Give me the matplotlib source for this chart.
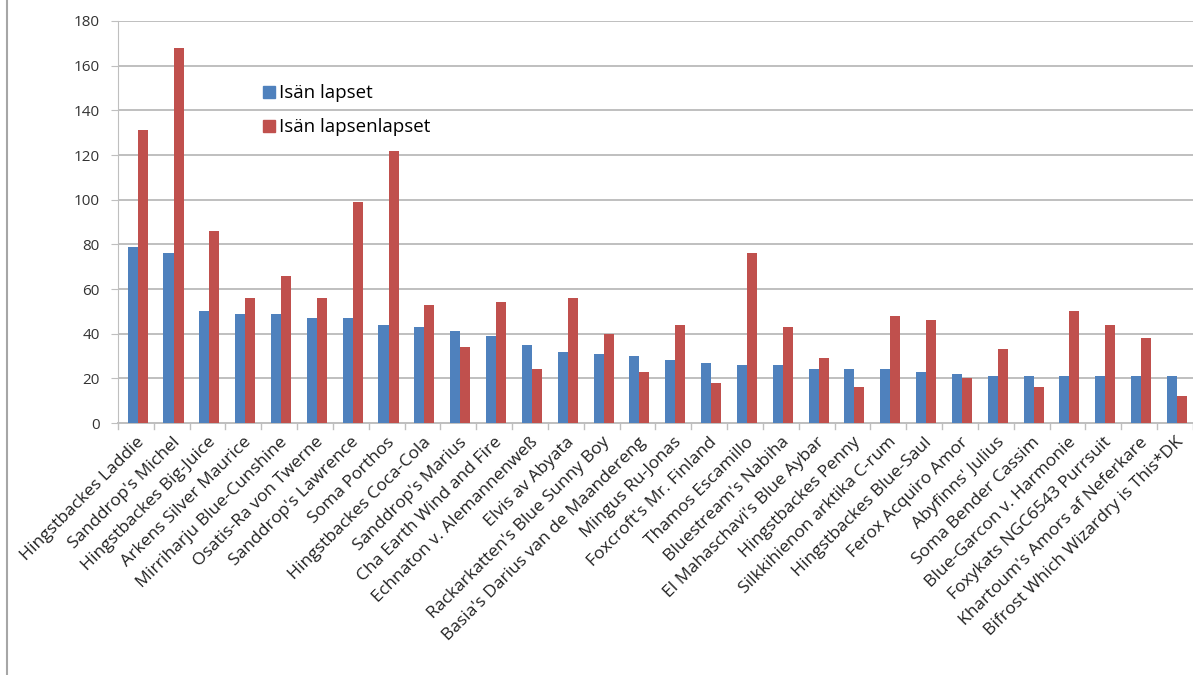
import matplotlib
matplotlib.use("Agg")
import matplotlib.pyplot as plt
import numpy as np
from matplotlib.lines import Line2D

plt.rcParams['font.family'] = ['Open Sans', 'DejaVu Sans']

cats = [
    "Hingstbackes Laddie", "Sanddrop's Michel", "Hingstbackes Big-Juice",
    "Arkens Silver Maurice", "Mirriharju Blue-Cunshine", "Osatis-Ra von Twerne",
    "Sanddrop's Lawrence", "Soma Porthos", "Hingstbackes Coca-Cola",
    "Sanddrop's Marius", "Cha Earth Wind and Fire", "Echnaton v. Alemannenweß",
    "Elvis av Abyata", "Rackarkatten's Blue Sunny Boy",
    "Basia's Darius van de Maandereng", "Mingus Ru-Jonas",
    "Foxcroft's Mr. Finland", "Thamos Escamillo", "Bluestream's Nabiha",
    "El Mahaschavi's Blue Aybar", "Hingstbackes Penny",
    "Silkkihienon arktika C-rum", "Hingstbackes Blue-Saul",
    "Ferox Acquiro Amor", "Abyfinns' Julius", "Soma Bender Cassim",
    "Blue-Garcon v. Harmonie", "Foxykats NGC6543 Purrsuit",
    "Khartoum's Amors af Neferkare", "Bifrost Which Wizardry is This*DK",
]
lapset = [79, 76, 50, 49, 49, 47, 47, 44, 43, 41, 39, 35, 32, 31, 30,
          28, 27, 26, 26, 24, 24, 24, 23, 22, 21, 21, 21, 21, 21, 21]
lapsenlapset = [131, 168, 86, 56, 66, 56, 99, 122, 53, 34, 54, 24, 56, 40, 23,
                44, 18, 76, 43, 29, 16, 48, 46, 20, 33, 16, 50, 44, 38, 12]
series_names = ["Isän lapset", "Isän lapsenlapset"]
yticks = list(range(0, 181, 20))

blue = "#4F81BD"
red = "#C0504D"

fig = plt.figure(figsize=(11.93, 6.75), dpi=100)
ax = fig.add_axes([0.0989, 0.3733, 0.9011, 0.5956])

x = np.arange(len(cats))
w = 0.28
ax.bar(x - w / 2 + 0.05, lapset, w, color=blue, zorder=3)
ax.bar(x + w / 2 + 0.05, lapsenlapset, w, color=red, zorder=3)

ax.set_xlim(-0.5, len(cats) - 0.5)
ax.set_ylim(0, 180)
ax.set_yticks(yticks)
ax.set_yticklabels([str(v) for v in yticks], fontsize=11, color="#333333")
ax.yaxis.grid(True, color="#BFBFBF", linewidth=1.4, zorder=0)
ax.tick_params(axis='y', length=5, color="#BFBFBF", pad=8)

# category labels centred on each group, tick marks on the boundaries
ax.set_xticks(x)
ax.set_xticklabels(cats, rotation=45, ha='right', rotation_mode='anchor',
                   fontsize=12.6, color="#222222")
ax.tick_params(axis='x', length=0, pad=8)
for b in np.arange(-0.5, len(cats), 1.0):
    ax.plot([b, b], [0, -2.5], color="#BFBFBF", lw=1, clip_on=False, zorder=4)

for s in ['top', 'right']:
    ax.spines[s].set_visible(False)
ax.spines['left'].set_color("#BFBFBF")
ax.spines['bottom'].set_color("#BFBFBF")
ax.spines['bottom'].set_linewidth(1.4)

handles = [Line2D([], [], marker='s', linestyle='none', markersize=8,
                  markerfacecolor=c, markeredgecolor=c) for c in (blue, red)]
leg = fig.legend(handles, series_names, loc='upper left',
                 bbox_to_anchor=(0.205, 0.9), frameon=False, fontsize=13.5,
                 handletextpad=0.15, labelspacing=0.85, handlelength=0.8)

# thin frame line down the left edge of the canvas
fig.add_artist(Line2D([0.006, 0.006], [0, 1], color="#A6A6A6", lw=1.5,
                      transform=fig.transFigure))

fig.savefig("out.png", dpi=100)
